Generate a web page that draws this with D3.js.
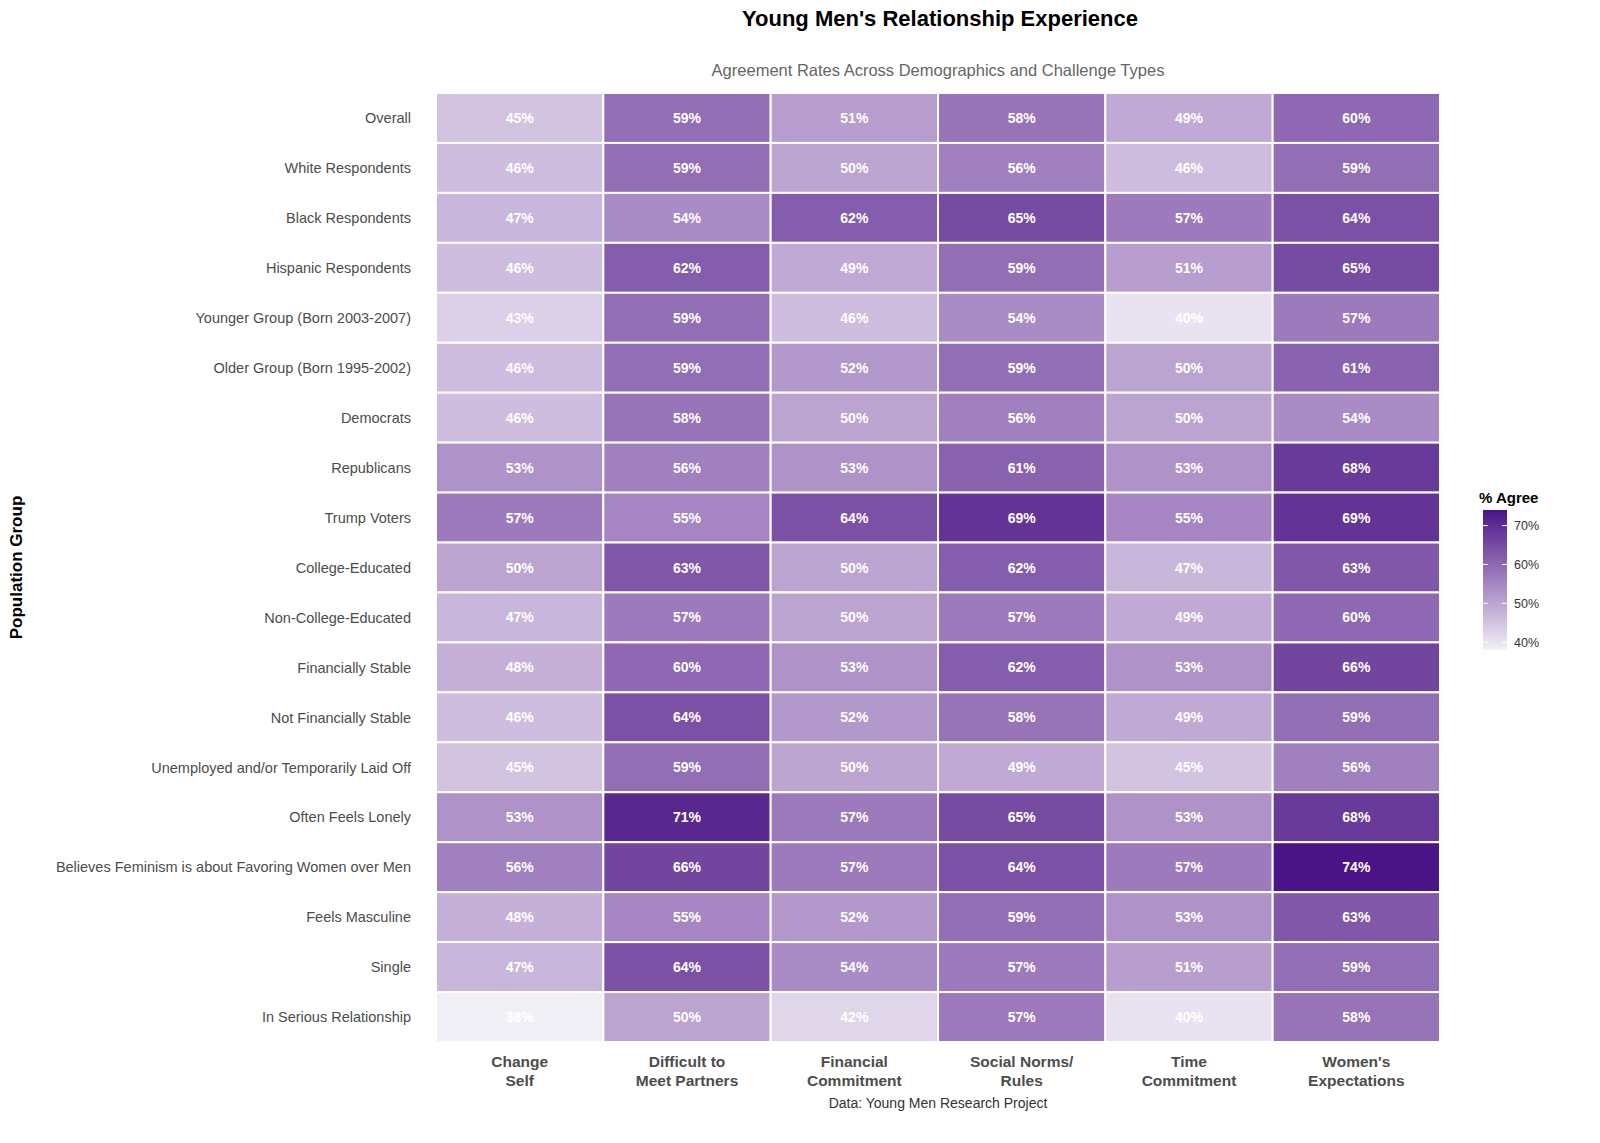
<!DOCTYPE html>
<html>
<head>
<meta charset="utf-8">
<script src="https://cdn.jsdelivr.net/npm/d3@7"></script>
<style>
  html, body { margin: 0; padding: 0; background: #fff; overflow: hidden; }
  svg { display: block; }
  svg text { font-family: "Liberation Sans", Arial, Helvetica, sans-serif; }
</style>
</head>
<body>
<div id="chart"></div>
<script>
const groups = [
    "Overall",
    "White Respondents",
    "Black Respondents",
    "Hispanic Respondents",
    "Younger Group (Born 2003-2007)",
    "Older Group (Born 1995-2002)",
    "Democrats",
    "Republicans",
    "Trump Voters",
    "College-Educated",
    "Non-College-Educated",
    "Financially Stable",
    "Not Financially Stable",
    "Unemployed and/or Temporarily Laid Off",
    "Often Feels Lonely",
    "Believes Feminism is about Favoring Women over Men",
    "Feels Masculine",
    "Single",
    "In Serious Relationship"
];

const challenges = [
    ["Change", "Self"],
    ["Difficult to", "Meet Partners"],
    ["Financial", "Commitment"],
    ["Social Norms/", "Rules"],
    ["Time", "Commitment"],
    ["Women's", "Expectations"]
];

// one row per group, in challenge order
const agreeValues = [
    [45, 59, 51, 58, 49, 60],
    [46, 59, 50, 56, 46, 59],
    [47, 54, 62, 65, 57, 64],
    [46, 62, 49, 59, 51, 65],
    [43, 59, 46, 54, 40, 57],
    [46, 59, 52, 59, 50, 61],
    [46, 58, 50, 56, 50, 54],
    [53, 56, 53, 61, 53, 68],
    [57, 55, 64, 69, 55, 69],
    [50, 63, 50, 62, 47, 63],
    [47, 57, 50, 57, 49, 60],
    [48, 60, 53, 62, 53, 66],
    [46, 64, 52, 58, 49, 59],
    [45, 59, 50, 49, 45, 56],
    [53, 71, 57, 65, 53, 68],
    [56, 66, 57, 64, 57, 74],
    [48, 55, 52, 59, 53, 63],
    [47, 64, 54, 57, 51, 59],
    [38, 50, 42, 57, 40, 58]
];

const legendTicks = [40, 50, 60, 70];

const width = 1600;
const height = 1143;
const plot = { left: 436, right: 1440, top: 93, bottom: 1042 };

const svg = d3.select("#chart").append("svg")
    .attr("width", width)
    .attr("height", height);

const colKeys = challenges.map(c => c.join(" "));
const x = d3.scaleBand().domain(colKeys).range([plot.left, plot.right]);
const y = d3.scaleBand().domain(groups).range([plot.top, plot.bottom]);
const color = d3.scaleLinear().domain([38, 74])
    .range(["#f2f0f7", "#4a1486"])
    .interpolate(d3.interpolateLab);

const cells = [];
groups.forEach((g, i) => {
    colKeys.forEach((c, j) => cells.push({ group: g, challenge: c, value: agreeValues[i][j] }));
});

const cell = svg.append("g").selectAll("g")
    .data(cells)
    .join("g");

cell.append("rect")
    .attr("x", d => x(d.challenge))
    .attr("y", d => y(d.group))
    .attr("width", x.bandwidth())
    .attr("height", y.bandwidth())
    .attr("fill", d => color(d.value))
    .attr("stroke", "#fff")
    .attr("stroke-width", 2);

cell.append("text")
    .attr("x", d => x(d.challenge) + x.bandwidth() / 2)
    .attr("y", d => y(d.group) + y.bandwidth() / 2)
    .attr("dy", "0.36em")
    .attr("text-anchor", "middle")
    .attr("fill", "#fff")
    .attr("font-size", 14)
    .attr("font-weight", "bold")
    .text(d => `${d.value}%`);

// row labels
svg.append("g").selectAll("text")
    .data(groups)
    .join("text")
    .attr("x", plot.left - 25)
    .attr("y", d => y(d) + y.bandwidth() / 2)
    .attr("dy", "0.36em")
    .attr("text-anchor", "end")
    .attr("fill", "#4d4d4d")
    .attr("font-size", 14.5)
    .text(d => d);

// column labels
const colLabels = svg.append("g").selectAll("text")
    .data(challenges)
    .join("text")
    .attr("text-anchor", "middle")
    .attr("fill", "#4d4d4d")
    .attr("font-size", 15.5)
    .attr("font-weight", "bold");
colLabels.selectAll("tspan")
    .data(d => d.map(line => ({ line, key: d.join(" ") })))
    .join("tspan")
    .attr("x", d => x(d.key) + x.bandwidth() / 2)
    .attr("y", (d, i) => 1067 + i * 19)
    .text(d => d.line);

// titles
svg.append("text")
    .attr("x", 940).attr("y", 26)
    .attr("text-anchor", "middle")
    .attr("font-size", 22)
    .attr("font-weight", "bold")
    .attr("fill", "#000")
    .text("Young Men's Relationship Experience");

svg.append("text")
    .attr("x", 938).attr("y", 76)
    .attr("text-anchor", "middle")
    .attr("font-size", 16.5)
    .attr("fill", "#666")
    .text("Agreement Rates Across Demographics and Challenge Types");

svg.append("text")
    .attr("x", 938).attr("y", 1108)
    .attr("text-anchor", "middle")
    .attr("font-size", 14)
    .attr("fill", "#333")
    .text("Data: Young Men Research Project");

svg.append("text")
    .attr("transform", `translate(22, ${(plot.top + plot.bottom) / 2}) rotate(-90)`)
    .attr("text-anchor", "middle")
    .attr("font-size", 17)
    .attr("font-weight", "bold")
    .attr("fill", "#000")
    .text("Population Group");

// legend
const legend = { x: 1483, top: 510, bottom: 650, w: 24 };
const ly = d3.scaleLinear().domain([38, 74]).range([legend.bottom, legend.top]);
const defs = svg.append("defs");
const grad = defs.append("linearGradient")
    .attr("id", "legend-grad")
    .attr("x1", "0%").attr("x2", "0%")
    .attr("y1", "100%").attr("y2", "0%");
d3.range(0, 11).forEach(i => {
    const t = i / 10;
    grad.append("stop")
        .attr("offset", `${t * 100}%`)
        .attr("stop-color", color(38 + 36 * t));
});

svg.append("text")
    .attr("x", legend.x - 4).attr("y", 503)
    .attr("font-size", 15)
    .attr("font-weight", "bold")
    .attr("fill", "#000")
    .text("% Agree");

svg.append("rect")
    .attr("x", legend.x)
    .attr("y", legend.top)
    .attr("width", legend.w)
    .attr("height", legend.bottom - legend.top)
    .attr("fill", "url(#legend-grad)");

const lt = svg.append("g").selectAll("g")
    .data(legendTicks)
    .join("g");
lt.append("line")
    .attr("x1", legend.x).attr("x2", legend.x + 5)
    .attr("y1", d => ly(d)).attr("y2", d => ly(d))
    .attr("stroke", "#fff").attr("stroke-width", 1);
lt.append("line")
    .attr("x1", legend.x + legend.w - 5).attr("x2", legend.x + legend.w)
    .attr("y1", d => ly(d)).attr("y2", d => ly(d))
    .attr("stroke", "#fff").attr("stroke-width", 1);
lt.append("text")
    .attr("x", legend.x + legend.w + 7)
    .attr("y", d => ly(d))
    .attr("dy", "0.36em")
    .attr("font-size", 12.5)
    .attr("fill", "#333")
    .text(d => `${d}%`);
</script>
</body>
</html>
